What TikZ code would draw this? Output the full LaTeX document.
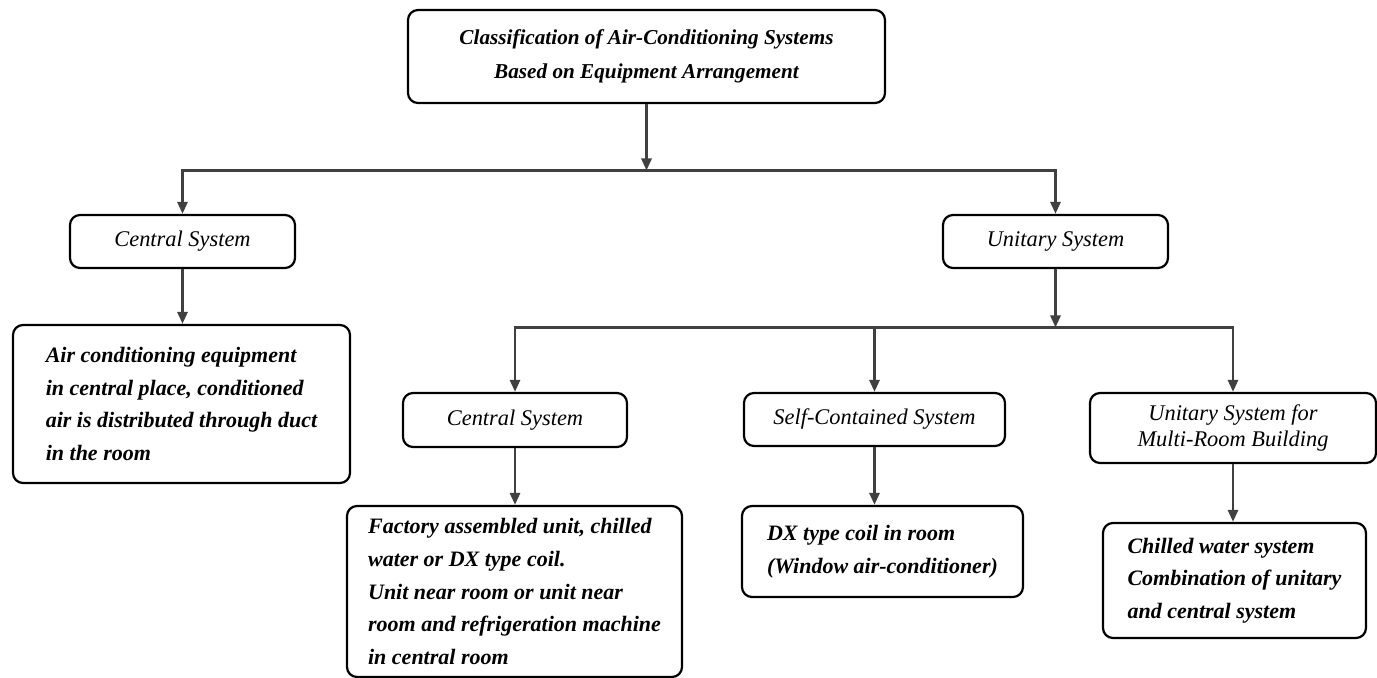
\documentclass[tikz,border=0pt]{standalone}
\usepackage{fontspec}
\setmainfont{Liberation Serif}
\usetikzlibrary{arrows.meta,positioning}

\begin{document}
\begin{tikzpicture}[x=0.5pt, y=-0.5pt,
	box/.style={draw, line width=1.1pt, rounded corners=5pt, align=center, inner sep=0pt,
		font=\itshape\fontsize{11.2}{13}\selectfont},
	desc/.style={box, align=left, font=\bfseries\itshape\fontsize{11}{16.3}\selectfont},
	arr/.style={-{Triangle[length=6pt,width=5pt]}, line width=1.4pt, draw=black!75}
]
	\useasboundingbox (0,0) rectangle (1377,678);
	\node[box, font=\bfseries\itshape\fontsize{10.6}{17}\selectfont, minimum width=238.5pt, minimum height=46.5pt]
		(title) at (646.5,56.5) {Classification of Air-Conditioning Systems\\ Based on Equipment Arrangement};
	\node[box, minimum width=112.5pt, minimum height=26.5pt] (central) at (182.5,241.5) {Central System};
	\node[box, minimum width=112.5pt, minimum height=26.5pt] (unitary) at (1055.5,241.5) {Unitary System};
	\node[desc, minimum width=168.5pt, minimum height=79pt] (centraldesc) at (181.5,404)
		{Air conditioning equipment\\ in central place, conditioned\\ air is distributed through duct\\ in the room};
	% second level under the unitary system
	\node[box, minimum width=112pt, minimum height=27pt] (unitcentral) at (515,420) {Central System};
	\node[box, minimum width=130.5pt, minimum height=26.5pt] (selfcont) at (874.5,419.5) {Self-Contained System};
	\node[box, minimum width=143pt, minimum height=35pt] (multiroom) at (1233,428)
		{Unitary System for\\ Multi-Room Building};
	\node[desc, minimum width=167.5pt, minimum height=85.5pt] (factory) at (514.5,591.5)
		{Factory assembled unit, chilled\\ water or DX type coil.\\ Unit near room or unit near\\ room and refrigeration machine\\ in central room};
	\node[desc, minimum width=140.5pt, minimum height=45.5pt] (dxcoil) at (882.5,551.5)
		{DX type coil in room\\ (Window air-conditioner)};
	\node[desc, minimum width=131.5pt, minimum height=57.5pt] (chilled) at (1234.5,580.5)
		{Chilled water system\\ Combination of unitary\\ and central system};
	\coordinate (bus1) at (646.5,170.5);
	\coordinate (bus2) at (1055.5,327.5);
	\draw[arr] (title.south) -- (bus1);
	\draw[arr] (bus1) -| (central.north);
	\draw[arr] (bus1) -| (unitary.north);
	\draw[arr] (central.south) -- (central.south |- centraldesc.north);
	\draw[arr] (unitary.south) -- (bus2);
	\draw[arr] (bus2) -| (unitcentral.north);
	\draw[arr] (bus2) -| (selfcont.north);
	\draw[arr] (bus2) -| (multiroom.north);
	\draw[arr] (unitcentral.south) -- (unitcentral.south |- factory.north);
	\draw[arr] (selfcont.south) -- (selfcont.south |- dxcoil.north);
	\draw[arr] (multiroom.south) -- (multiroom.south |- chilled.north);
\end{tikzpicture}
\end{document}
